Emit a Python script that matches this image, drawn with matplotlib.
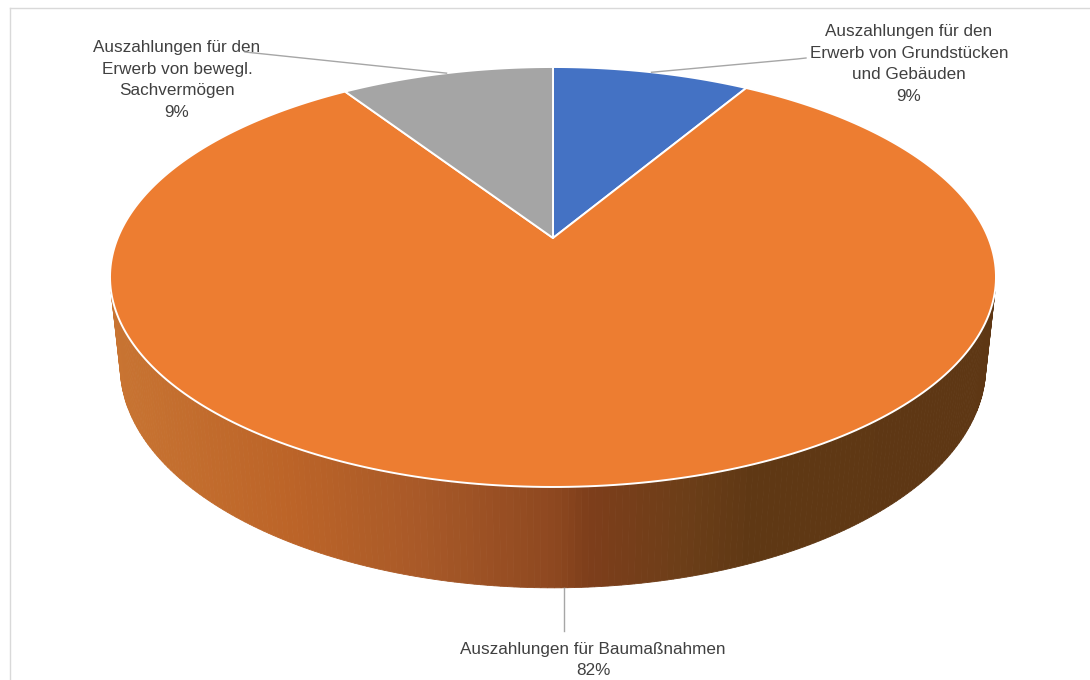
import numpy as np
import matplotlib.pyplot as plt
from matplotlib.patches import Polygon
from matplotlib.lines import Line2D

# data (clockwise from 12 o'clock)
labels = ['Auszahlungen für den\nErwerb von Grundstücken\nund Gebäuden',
          'Auszahlungen für Baumaßnahmen',
          'Auszahlungen für den\nErwerb von bewegl.\nSachvermögen']
shares = [8.6, 82.1, 9.3]
colors = ['#4472C4', '#ED7D31', '#A5A5A5']

# 3d look: simple perspective camera
elev = np.radians(27.76)
dist = 4.766
height = 0.234
scale = 2074.6          # pixels per projected unit
cx, cy = 553, 238       # where the pie centre lands on the canvas
W, H = 1090, 680

# side shading, by horizontal screen position (-1 left .. 1 right)
shade_pos = [-1.0, -0.6, -0.3, 0.0, 0.08, 0.3, 0.45, 1.0]
shade_rgb = np.array([[200, 116, 50], [188, 100, 40], [168, 89, 40], [142, 72, 32],
                      [126, 62, 27], [108, 62, 24], [95, 56, 20], [94, 55, 20]]) / 255


def project(X, Y, Z):
    ce, se = np.cos(elev), np.sin(elev)
    ry = Y + dist * ce
    rz = Z - dist * se
    depth = ry * ce - rz * se
    return X / depth, (ry * se + rz * ce) / depth


def rim(theta, z=0.0):
    return project(np.sin(theta), np.cos(theta), z)


def to_data(x, y):
    return (x - cx) / scale, (cy - y) / scale


fig = plt.figure(figsize=(W / 100, H / 100), dpi=100)
ax = fig.add_axes([0, 0, 1, 1])
ax.set_xlim(-cx / scale, (W - cx) / scale)
ax.set_ylim(-(H - cy) / scale, cy / scale)
ax.axis('off')

bounds = np.concatenate([[0], np.cumsum(shares)]) / sum(shares) * 2 * np.pi
apex = project(0.0, 0.0, 0.0)

# sides (only facets that face the camera)
for i in range(len(shares)):
    th = np.linspace(bounds[i], bounds[i + 1], 400)
    for t0, t1 in zip(th[:-1], th[1:]):
        tm = (t0 + t1) / 2
        if np.cos(tm) > -1 / (dist * np.cos(elev)):
            continue
        p = [rim(t0), rim(t1), rim(t1, -height), rim(t0, -height)]
        um = (p[0][0] + p[1][0]) / 2 * scale / 443
        col = [np.interp(um, shade_pos, shade_rgb[:, k]) for k in range(3)]
        ax.add_patch(Polygon(p, closed=True, facecolor=col, edgecolor=col,
                             linewidth=0.6, zorder=1))

# top faces
for i in range(len(shares)):
    th = np.linspace(bounds[i], bounds[i + 1], 300)
    u, v = rim(th)
    pts = np.vstack([[apex], np.column_stack([u, v])])
    ax.add_patch(Polygon(pts, closed=True, facecolor=colors[i], edgecolor='white',
                         linewidth=1.4, joinstyle='round', zorder=2))

# labels with leader lines
font = dict(family=['Liberation Sans', 'DejaVu Sans'], size=12.3, color='#404040',
            ha='center', va='center', linespacing=1.55)
leader = dict(color='#A6A6A6', linewidth=1.0, zorder=3)
texts = [f'{lab}\n{round(s)}%' for lab, s in zip(labels, shares)]
mids = (bounds[:-1] + bounds[1:]) / 2

# blue
ax.text(*to_data(909, 64), texts[0], **font)
p = rim(mids[0])
a, b = to_data(797, 59), to_data(806, 58)
ax.plot([p[0], a[0], b[0]], [p[1], a[1], b[1]], **leader)

# orange
ax.text(*to_data(593, 660), texts[1], **font)
p = rim(mids[1], -height)
ax.plot([p[0], p[0]], [p[1], to_data(0, 631)[1]], **leader)

# gray
ax.text(*to_data(177, 80), texts[2], **font)
p = rim(mids[2])
a = to_data(245, 52)
ax.plot([p[0], a[0]], [p[1], a[1]], **leader)

# chart frame (only the top and left edges fall inside the image)
fig.add_artist(Line2D([9.5 / W, 9.5 / W], [0, 1 - 7.5 / H], color='#D9D9D9', linewidth=1))
fig.add_artist(Line2D([9.5 / W, 1], [1 - 7.5 / H, 1 - 7.5 / H], color='#D9D9D9', linewidth=1))

fig.savefig('out.png', dpi=100, facecolor='white')
